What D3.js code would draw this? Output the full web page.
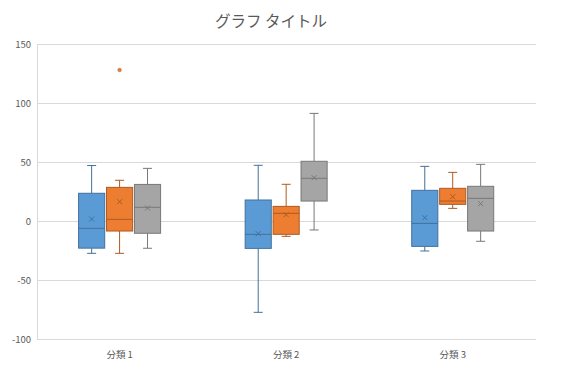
<!DOCTYPE html>
<html>
<head>
<meta charset="utf-8">
<script src="https://cdn.jsdelivr.net/npm/d3@7"></script>
<style>
  body { margin: 0; background: #fff; }
  text { font-family: "Noto Sans CJK JP", "Noto Sans", sans-serif; fill: #595959; }
</style>
</head>
<body>
<div id="chart"></div>
<script>
// box plot - three series per category

const categories = ['分類 1', '分類 2', '分類 3'];
const seriesNames = ['系列1', '系列2', '系列3'];
const fills = ['#5B9BD5', '#ED7D31', '#A5A5A5'];
const strokes = ['#41719C', '#AE5A21', '#787878'];
const yTicks = [-100, -50, 0, 50, 100, 150];

// [min, q1, median, q3, max, mean] per series, per category
const series1 = [
  [-27.4, -23, -6.2, 23.5, 47, 1.7],
  [-77.4, -23.2, -11.3, 17.8, 47.2, -10.7],
  [-25.4, -21.5, -2, 26, 46.3, 2.8]
];
const series2 = [
  [-27.4, -8.5, 1.4, 28.5, 34.5, 16.4],
  [-13, -11.3, 6.5, 12.4, 31.1, 5.4],
  [10.7, 14.1, 16.9, 27.7, 41.2, 20.6]
];
const series3 = [
  [-23.1, -10.4, 11.6, 31, 44.6, 11],
  [-7.6, 16.9, 36.2, 50.6, 91.2, 36.7],
  [-17.2, -8.5, 19.2, 29.4, 48, 14.7]
];
// outliers: [series index, category index, value]
const outliers = [[1, 0, 128]];

const allSeries = [series1, series2, series3];

const W = 561, H = 376;
const margin = {left: 37, right: 25, top: 44, bottom: 37};

const svg = d3.select('#chart').append('svg')
  .attr('width', W).attr('height', H);

const x = d3.scaleBand().domain(categories)
  .range([margin.left - 0.7, W - margin.right]);
const y = d3.scaleLinear().domain([-100, 150])
  .range([H - margin.bottom, margin.top]);

const inner = d3.scaleBand().domain(d3.range(3))
  .range([0, 82]).paddingInner(0.065);

// gridlines
svg.append('g').selectAll('line').data(yTicks).enter().append('line')
  .attr('x1', margin.left).attr('x2', W - margin.right)
  .attr('y1', d => y(d) + 0.5).attr('y2', d => y(d) + 0.5)
  .attr('stroke', '#d9d9d9').attr('stroke-width', 1);

// left axis line
svg.append('line')
  .attr('x1', margin.left + 0.5).attr('x2', margin.left + 0.5)
  .attr('y1', y(150)).attr('y2', y(-100))
  .attr('stroke', '#d9d9d9');

// y tick labels
svg.append('g').selectAll('text').data(yTicks).enter().append('text')
  .attr('x', 31).attr('y', d => y(d) + 3.5)
  .attr('text-anchor', 'end')
  .style('font-size', '9.5px')
  .text(d => d);

// x labels
svg.append('g').selectAll('text').data(categories).enter().append('text')
  .attr('x', d => x(d) + x.bandwidth() / 2)
  .attr('y', 358)
  .attr('text-anchor', 'middle')
  .style('font-size', '9.5px')
  .text(d => d);

// title
svg.append('text')
  .attr('x', 271).attr('y', 27)
  .attr('text-anchor', 'middle')
  .style('font-size', '15.5px')
  .text('グラフ タイトル');

// boxes
allSeries.forEach((ser, si) => {
  const g = svg.append('g');
  ser.forEach((s, ci) => {
    const [mn, q1, med, q3, mx, mean] = s;
    const cx = x(categories[ci]) + x.bandwidth() / 2;
    const x0 = cx - 41 + inner(si);
    const bw = inner.bandwidth();
    const mid = x0 + bw / 2;
    const cap = 4.5;
    // whiskers
    g.append('line').attr('x1', mid).attr('x2', mid)
      .attr('y1', y(mx)).attr('y2', y(q3)).attr('stroke', strokes[si]);
    g.append('line').attr('x1', mid).attr('x2', mid)
      .attr('y1', y(q1)).attr('y2', y(mn)).attr('stroke', strokes[si]);
    g.append('line').attr('x1', mid - cap).attr('x2', mid + cap)
      .attr('y1', y(mx)).attr('y2', y(mx)).attr('stroke', strokes[si]);
    g.append('line').attr('x1', mid - cap).attr('x2', mid + cap)
      .attr('y1', y(mn)).attr('y2', y(mn)).attr('stroke', strokes[si]);
    // box
    g.append('rect')
      .attr('x', x0).attr('y', y(q3))
      .attr('width', bw).attr('height', y(q1) - y(q3))
      .attr('fill', fills[si]).attr('stroke', strokes[si]).attr('stroke-width', 1);
    // median
    g.append('line').attr('x1', x0).attr('x2', x0 + bw)
      .attr('y1', y(med)).attr('y2', y(med)).attr('stroke', strokes[si]);
    // mean marker
    const m = 2.5;
    g.append('path')
      .attr('d', `M${mid - m},${y(mean) - m}L${mid + m},${y(mean) + m}M${mid - m},${y(mean) + m}L${mid + m},${y(mean) - m}`)
      .attr('stroke', strokes[si]).attr('stroke-width', 1);
  });
});

// outliers
svg.append('g').selectAll('circle').data(outliers).enter().append('circle')
  .attr('cx', d => x(categories[d[1]]) + x.bandwidth() / 2 - 41 + inner(d[0]) + inner.bandwidth() / 2)
  .attr('cy', d => y(d[2]))
  .attr('r', 1.8)
  .attr('fill', d => fills[d[0]]).attr('stroke', d => strokes[d[0]]).attr('stroke-width', 0.5);
</script>
</body>
</html>
